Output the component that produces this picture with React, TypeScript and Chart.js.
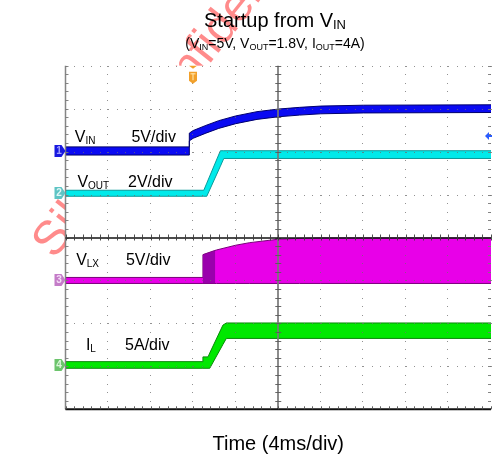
import React, { useEffect, useRef } from "react";
import { Chart, registerables } from "chart.js";

Chart.register(...registerables);

// Screen is 10 x 8 divisions
const X_DIVS = 10;
const Y_DIVS = 8;

// Channel 1: V_IN (5V/div), band envelope in divisions
const vinX = [0, 2.91, 2.91, 3.0, 3.3, 3.6, 4.0, 4.5, 5.0, 5.5, 6.0, 7.0, 10];
const vinHi = [6.11, 6.11, 6.43, 6.49, 6.61, 6.72, 6.83, 6.93, 6.99, 7.03, 7.06, 7.08, 7.09];
const vinLo = [5.92, 5.92, 6.25, 6.31, 6.43, 6.54, 6.65, 6.75, 6.81, 6.85, 6.88, 6.90, 6.91];

// Channel 2: V_OUT (2V/div)
const voutX = [0, 3.25, 3.32, 3.64, 3.72, 10];
const voutHi = [5.1, 5.1, 5.265, 6.02, 6.02, 6.02];
const voutLo = [4.96, 4.96, 4.96, 5.66, 5.84, 5.84];

// Channel 3: V_LX (5V/div) switching envelope
const vlxX = [0, 3.23, 3.23, 3.55, 4.0, 4.33, 5.0, 5.5, 6.0, 10];
const vlxHi = [3.07, 3.07, 3.6, 3.71, 3.82, 3.88, 3.96, 3.98, 3.99, 3.99];
const vlxLo = [2.93, 2.93, 2.93, 2.93, 2.93, 2.93, 2.93, 2.93, 2.93, 2.93];
const vlxDarkX = [3.23, 3.52];
const vlxDarkHi = [3.6, 3.7];
const vlxDarkLo = [2.93, 2.93];

// Channel 4: I_L (5A/div) ripple envelope
const ilX = [0, 3.23, 3.23, 3.35, 3.39, 3.7, 3.78, 10];
const ilHi = [1.11, 1.11, 1.22, 1.22, 1.31, 1.96, 2.01, 2.01];
const ilLo = [0.955, 0.955, 0.955, 0.955, 0.955, 1.51, 1.65, 1.65];

// Channel ground markers (divisions)
const channelOffsets = [6.02, 5.03, 3.0, 1.03];
const channelNumbers = ["1", "2", "3", "4"];
const triggerTime = 3.0;
const triggerLevel = 6.36;

// Channel label texts
const labelMain = ["V", "V", "V", "I"];
const labelSub = ["IN", "OUT", "LX", "L"];
const labelScale = ["5V/div", "2V/div", "5V/div", "5A/div"];
const labelPosX = [0.22, 0.28, 0.25, 0.48];
const labelScaleX = [1.55, 1.47, 1.42, 1.4];
const labelPosY = [6.23, 5.18, 3.36, 1.38];

const FONT = "'Liberation Sans', Arial, Helvetica, sans-serif";

const pts = (xs: number[], ys: number[]) => xs.map((x, i) => ({ x, y: ys[i] }));

function drawSegments(ctx: CanvasRenderingContext2D, segs: [string, number][], cx: number, y: number, mainPx: number, subPx: number, subDy: number) {
  let total = 0;
  for (const [t, s] of segs) {
    ctx.font = `${s ? subPx : mainPx}px ${FONT}`;
    total += ctx.measureText(t).width;
  }
  let x = cx - total / 2;
  ctx.textAlign = "left";
  for (const [t, s] of segs) {
    ctx.font = `${s ? subPx : mainPx}px ${FONT}`;
    ctx.fillText(t, x, s ? y + subDy : y);
    x += ctx.measureText(t).width;
  }
}

const scopePlugin = {
  id: "scope",
  beforeDraw(chart: any) {
    const { ctx, chartArea: a, width, height } = chart;
    ctx.save();
    ctx.fillStyle = "#ffffff";
    ctx.fillRect(0, 0, width, height);
    // watermark
    ctx.translate(54, 260);
    ctx.rotate(-0.9);
    ctx.font = `48px ${FONT}`;
    ctx.fillStyle = "rgba(255,110,110,0.8)";
    ctx.fillText("Silergy Confidential", 0, 0);
    ctx.restore();
    ctx.save();
    ctx.fillStyle = "#ffffff";
    ctx.fillRect(a.left, a.top, a.right - a.left, a.bottom - a.top);
    ctx.restore();
  },
  afterDatasetsDraw(chart: any) {
    const { ctx, chartArea: a } = chart;
    const xs = chart.scales.x;
    const ys = chart.scales.y;
    const X = (v: number) => xs.getPixelForValue(v);
    const Y = (v: number) => ys.getPixelForValue(v);
    ctx.save();
    // dotted grid
    ctx.fillStyle = "rgba(110,110,110,0.75)";
    for (let i = 1; i <= X_DIVS; i++) {
      if (i === 5) continue;
      for (let k = 0; k <= Y_DIVS * 5; k++) {
        ctx.fillRect(Math.round(X(i)) - 1, Math.round(Y(k / 5)), 1, 1);
      }
    }
    for (let j = 1; j <= Y_DIVS; j++) {
      if (j === 4) continue;
      for (let k = 0; k <= X_DIVS * 5; k++) {
        ctx.fillRect(Math.round(X(k / 5)), Math.round(Y(j)), 1, 1);
      }
    }
    // left border
    ctx.strokeStyle = "rgba(120,120,120,0.9)";
    ctx.lineWidth = 1.5;
    ctx.beginPath();
    ctx.moveTo(X(0), a.top);
    ctx.lineTo(X(0), a.bottom);
    ctx.stroke();
    ctx.lineWidth = 1;
    ctx.beginPath();
    for (let k = 0; k <= Y_DIVS * 5; k++) {
      const y = Math.round(Y(k / 5)) + 0.5;
      ctx.moveTo(X(0), y);
      ctx.lineTo(X(0) + 3, y);
      ctx.moveTo(X(10) - 3, y);
      ctx.lineTo(X(10), y);
    }
    ctx.stroke();
    // center vertical
    ctx.strokeStyle = "rgba(120,120,120,0.85)";
    ctx.lineWidth = 2;
    ctx.beginPath();
    ctx.moveTo(Math.round(X(5)), a.top);
    ctx.lineTo(Math.round(X(5)), a.bottom);
    ctx.stroke();
    ctx.lineWidth = 1;
    ctx.strokeStyle = "rgba(90,90,90,0.9)";
    ctx.beginPath();
    for (let k = 0; k <= Y_DIVS * 5; k++) {
      const y = Math.round(Y(k / 5)) + 0.5;
      ctx.moveTo(X(5) - 3, y);
      ctx.lineTo(X(5) + 3, y);
    }
    ctx.stroke();
    // center horizontal
    ctx.strokeStyle = "#111111";
    ctx.lineWidth = 1.3;
    ctx.beginPath();
    ctx.moveTo(a.left, Math.round(Y(4)));
    ctx.lineTo(a.right, Math.round(Y(4)));
    ctx.stroke();
    ctx.lineWidth = 1;
    ctx.strokeStyle = "rgba(60,60,60,0.9)";
    ctx.beginPath();
    for (let k = 0; k <= X_DIVS * 5; k++) {
      const x = Math.round(X(k / 5)) + 0.5;
      ctx.moveTo(x, Y(4) - 3);
      ctx.lineTo(x, Y(4) + 3);
    }
    ctx.stroke();
    // bottom border
    ctx.strokeStyle = "#111111";
    ctx.lineWidth = 2;
    ctx.beginPath();
    ctx.moveTo(a.left, Y(0));
    ctx.lineTo(a.right, Y(0));
    ctx.stroke();
    ctx.lineWidth = 1;
    ctx.strokeStyle = "rgba(80,80,80,0.9)";
    ctx.beginPath();
    for (let k = 0; k <= X_DIVS * 5; k++) {
      const x = Math.round(X(k / 5)) + 0.5;
      ctx.moveTo(x, Y(0) - 3);
      ctx.lineTo(x, Y(0));
    }
    ctx.stroke();

    // channel markers
    const mFill = ["#1818e0", "#5ec4c4", "#c47cc8", "#6cc46c"];
    const mText = ["#a0a0ff", "#dff7f7", "#f4dcf6", "#dcf6dc"];
    channelOffsets.forEach((v, i) => {
      const y = Math.round(Y(v));
      const x = a.left;
      ctx.beginPath();
      ctx.moveTo(x - 11, y - 6);
      ctx.lineTo(x - 4, y - 6);
      ctx.lineTo(x, y);
      ctx.lineTo(x - 4, y + 6);
      ctx.lineTo(x - 11, y + 6);
      ctx.closePath();
      ctx.fillStyle = mFill[i];
      ctx.fill();
      ctx.fillStyle = mText[i];
      ctx.font = `bold 10px ${FONT}`;
      ctx.textAlign = "center";
      ctx.textBaseline = "middle";
      ctx.fillText(channelNumbers[i], x - 6.5, y + 0.5);
    });

    // trigger level arrow (right)
    {
      const y = Math.round(Y(triggerLevel));
      const x = a.right - 6;
      ctx.fillStyle = "#2a5cff";
      ctx.beginPath();
      ctx.moveTo(x, y);
      ctx.lineTo(x + 4, y - 4);
      ctx.lineTo(x + 4, y + 4);
      ctx.closePath();
      ctx.fill();
      ctx.fillRect(x + 3, y - 1, 4, 2);
    }
    // trigger time marker (top)
    {
      const x = Math.round(X(triggerTime));
      const y = a.top;
      ctx.fillStyle = "#f2a02a";
      ctx.beginPath();
      ctx.moveTo(x - 4, y);
      ctx.lineTo(x + 4, y);
      ctx.lineTo(x, y + 3);
      ctx.closePath();
      ctx.fill();
      ctx.beginPath();
      ctx.moveTo(x - 4, y + 6);
      ctx.lineTo(x + 4, y + 6);
      ctx.lineTo(x + 4, y + 15);
      ctx.lineTo(x, y + 18);
      ctx.lineTo(x - 4, y + 15);
      ctx.closePath();
      ctx.fill();
      ctx.fillStyle = "#ffe0a0";
      ctx.fillRect(x - 2.5, y + 7.5, 5, 1.2);
      ctx.fillRect(x - 0.6, y + 7.5, 1.2, 7);
    }

    // channel labels
    ctx.fillStyle = "#000000";
    ctx.textBaseline = "alphabetic";
    ctx.textAlign = "left";
    labelMain.forEach((m, i) => {
      const x = X(labelPosX[i]);
      const y = Y(labelPosY[i]);
      ctx.font = `16px ${FONT}`;
      ctx.fillText(m, x, y);
      const w = ctx.measureText(m).width;
      ctx.font = `10px ${FONT}`;
      ctx.fillText(labelSub[i], x + w, y + 2);
      ctx.font = `16px ${FONT}`;
      ctx.fillText(labelScale[i], X(labelScaleX[i]), y);
    });
    ctx.restore();
  },
  afterDraw(chart: any) {
    const { ctx, chartArea: a } = chart;
    ctx.save();
    ctx.fillStyle = "#000000";
    ctx.textBaseline = "alphabetic";
    const cx = 275;
    drawSegments(ctx, [["Startup from V", 0], ["IN", 1]], cx, 26.5, 20, 13, 2);
    drawSegments(
      ctx,
      [["(V", 0], ["IN", 1], ["=5V, V", 0], ["OUT", 1], ["=1.8V, I", 0], ["OUT", 1], ["=4A)", 0]],
      cx,
      48,
      14,
      9,
      2
    );
    drawSegments(ctx, [["Time (4ms/div)", 0]], (a.left + a.right) / 2, 450, 20, 12, 0);
    ctx.restore();
  },
};

function band(xs: number[], hi: number[], lo: number[], fillColor: string, edge: string, edgeW: number) {
  return [
    {
      data: pts(xs, hi),
      borderColor: edge,
      borderWidth: edgeW,
      pointRadius: 0,
      fill: false,
      tension: 0,
    },
    {
      data: pts(xs, lo),
      borderColor: edge,
      borderWidth: edgeW,
      pointRadius: 0,
      fill: "-1",
      backgroundColor: fillColor,
      tension: 0,
    },
  ];
}

export default function App() {
  const ref = useRef<HTMLCanvasElement | null>(null);
  useEffect(() => {
    document.body.style.margin = "0";
    if (!ref.current) return;
    const chart = new Chart(ref.current, {
      type: "line",
      data: {
        // earlier datasets are painted on top
        datasets: [
          ...band(vinX, vinHi, vinLo, "#0a0af2", "#00006e", 1),
          ...band(voutX, voutHi, voutLo, "#00eaea", "#0a9a9a", 1),
          ...band(vlxDarkX, vlxDarkHi, vlxDarkLo, "#9a00ac", "#7a007a", 0.5),
          ...band(vlxX, vlxHi, vlxLo, "#e800e8", "#7a007a", 1),
          ...band(ilX, ilHi, ilLo, "#00e800", "#0a8a0a", 1),
        ] as any,
      },
      options: {
        responsive: false,
        animation: false,
        devicePixelRatio: 1,
        layout: { padding: { left: 65.5, right: 10, top: 65.7, bottom: 48.7 } },
        plugins: {
          legend: { display: false },
          tooltip: { enabled: false },
          title: { display: false },
        },
        scales: {
          x: { type: "linear", min: 0, max: X_DIVS, display: false },
          y: { type: "linear", min: 0, max: Y_DIVS, display: false },
        },
        elements: { point: { radius: 0 }, line: { tension: 0 } },
      },
      plugins: [scopePlugin],
    });
    return () => chart.destroy();
  }, []);
  return (
    <div style={{ position: "absolute", left: 0, top: 0, width: 501, height: 458 }}>
      <canvas ref={ref} width={501} height={458} style={{ display: "block" }} />
    </div>
  );
}
